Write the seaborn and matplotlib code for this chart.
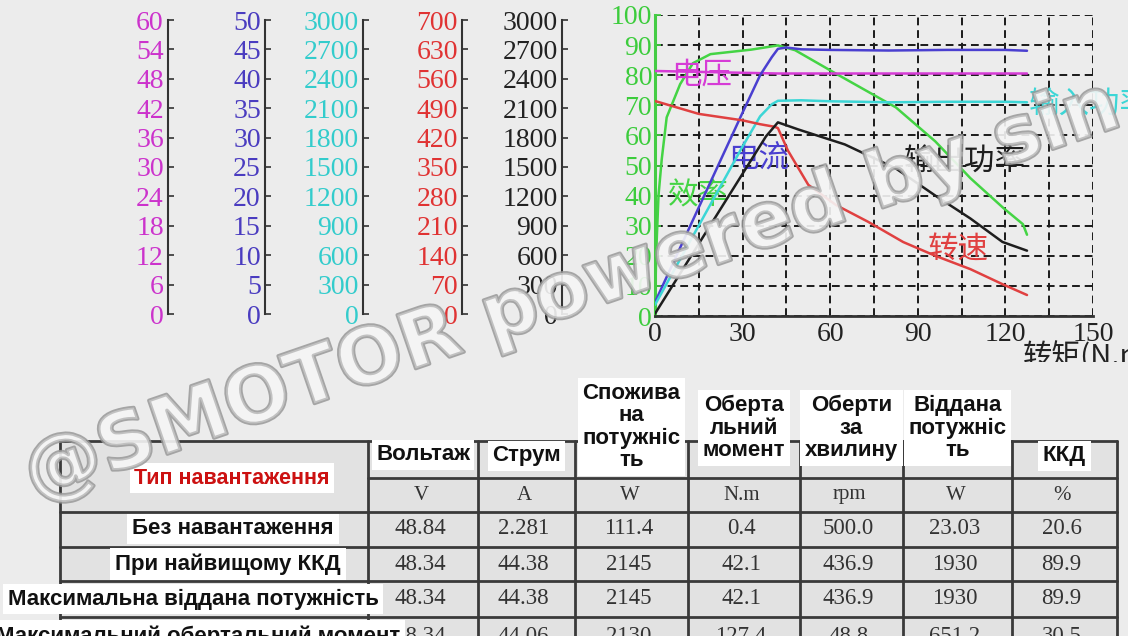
import numpy as np
import pandas as pd
import matplotlib
matplotlib.use("Agg")
import matplotlib.pyplot as plt
import matplotlib.patheffects as pe
from matplotlib.patches import Rectangle
import seaborn as sns

# ---- curve data (x = torque, N.m) ----
volt_torque = [0, 20, 42.1, 80, 127.4]
voltage = [48.84, 48.6, 48.34, 48.34, 48.34]

cur_torque = [0, 10, 20, 30, 36, 40, 42.1, 45, 50, 60, 80, 100, 120, 127.4]
current = [2.281, 12.8, 23.3, 33.8, 40.0, 43.0, 44.38, 44.6, 44.3, 44.2, 44.1, 44.2, 44.2, 44.06]

pin_torque = [0, 10, 20, 30, 36, 40, 42.1, 50, 60, 80, 100, 120, 127.4]
input_power = [111.4, 640, 1165, 1690, 1990, 2110, 2145, 2150, 2140, 2130, 2135, 2135, 2130]

spd_torque = [0, 15, 30, 36, 41, 42.1, 45.5, 52.5, 62, 73, 85, 96, 108, 119, 127.4]
speed = [500.0, 470, 455, 446, 440, 436.9, 385, 305, 258, 219, 172, 140, 109, 74, 48.8]

pout_torque = [0, 10, 20, 30, 38, 42.1, 49, 65, 82.5, 96, 108, 119, 127.4]
output_power = [23.03, 488, 953, 1418, 1790, 1930, 1860, 1710, 1470, 1200, 972, 738, 651.2]

eff_torque = [0, 0.4, 1.2, 2.3, 4, 8.6, 13, 19, 33, 42.1, 48, 62, 82.5, 96, 108, 119.4, 126, 127.4]
efficiency = [2, 20.6, 40, 52, 66, 77, 84, 87, 88.5, 89.9, 88.3, 80.5, 69.3, 58, 45.8, 35.8, 30.5, 27]

# ---- scales of the stacked axes on the left ----
scale_max = [60, 50, 3000, 700, 3000]
scale_step = [6, 5, 300, 70, 300]
scale_colors = ["#cc33cc", "#4a3cc0", "#33cccc", "#e03333", "#222222"]

# ---- curve labels ----
curve_labels = ["电压", "电流", "输入功率", "转速", "输出功率", "效率"]

# ---- table ----
headers = ["Вольтаж", "Струм", "Спожива\nна\nпотужніс\nть", "Оберта\nльний\nмомент",
           "Оберти\nза\nхвилину", "Віддана\nпотужніс\nть", "ККД"]
units = ["V", "A", "W", "N.m", "rpm", "W", "%"]
row_labels = ["Без навантаження", "При найвищому ККД",
              "Максимальна віддана потужність", "Максимальний обертальний момент"]
row_no_load = ["48.84", "2.281", "111.4", "0.4", "500.0", "23.03", "20.6"]
row_best_eff = ["48.34", "44.38", "2145", "42.1", "436.9", "1930", "89.9"]
row_max_pout = ["48.34", "44.38", "2145", "42.1", "436.9", "1930", "89.9"]
row_max_torque = ["48.34", "44.06", "2130", "127.4", "48.8", "651.2", "30.5"]
table_rows = [row_no_load, row_best_eff, row_max_pout, row_max_torque]

BG = "#ececec"
W, H = 1128, 636

sns.set_theme(style="white", rc={"figure.facecolor": BG, "axes.facecolor": BG})
plt.rcParams["font.family"] = ["Liberation Serif", "Noto Sans CJK SC", "DejaVu Sans"]
CJK = ["Noto Sans CJK SC", "DejaVu Sans"]
SANS = ["Liberation Sans", "DejaVu Sans"]


def px_rect(x0, y0, x1, y1):
    return [x0 / W, 1 - y1 / H, (x1 - x0) / W, (y1 - y0) / H]


fig = plt.figure(figsize=(W / 100, H / 100), dpi=100)

# stacked value scales
spine_x = [168, 265, 363, 462, 562]
for sx, vmax, step, col in zip(spine_x, scale_max, scale_step, scale_colors):
    sa = fig.add_axes(px_rect(sx, 20, sx + 1, 314))
    sa.patch.set_visible(False)
    sa.set_ylim(0, vmax)
    sa.set_yticks(np.arange(0, vmax + step, step))
    sa.set_xticks([])
    for s in ["top", "right", "bottom"]:
        sa.spines[s].set_visible(False)
    sa.spines["left"].set_color("#333333")
    sa.spines["left"].set_linewidth(1.5)
    sa.tick_params(axis="y", direction="in", length=4, width=1.2, color="#333333",
                   labelsize=20, labelcolor=col, pad=3, left=True)

# main chart
ax = fig.add_axes(px_rect(655, 15, 1093, 316))
ax.set_xlim(0, 150)
ax.set_ylim(0, 100)
xt = np.arange(0, 151, 15)
ax.set_xticks(xt)
ax.set_xticklabels([str(v) if v % 30 == 0 else "" for v in xt])
ax.set_yticks(np.arange(0, 101, 10))
ax.tick_params(axis="x", length=0, labelsize=20, labelcolor="#222222", pad=4)
ax.tick_params(axis="y", left=True, direction="in", length=4, color="#44cc44",
               labelsize=20, labelcolor="#3ccc3c", pad=2)
ax.grid(True, color="#1a1a1a", linestyle=(0, (4, 2.5)), linewidth=1.4)
ax.spines["top"].set_visible(False)
ax.spines["right"].set_visible(False)
ax.spines["left"].set_color("#44cc44")
ax.spines["left"].set_linewidth(2.2)
ax.spines["bottom"].set_color("#333333")
ax.spines["bottom"].set_linewidth(2)

series = [
    (volt_torque, voltage, 60, "#d63cd6"),
    (cur_torque, current, 50, "#4a3fd0"),
    (pin_torque, input_power, 3000, "#3cd6d6"),
    (spd_torque, speed, 700, "#e04040"),
    (pout_torque, output_power, 3000, "#1e1e1e"),
]
for tq, vals, vmax, col in series:
    tw = ax.twinx()
    tw.set_ylim(0, vmax)
    tw.set_axis_off()
    sns.lineplot(x=tq, y=vals, ax=tw, color=col, linewidth=1.8)

sns.lineplot(x=eff_torque, y=efficiency, ax=ax, color="#44d444", linewidth=1.8)

label_pos = [(5.5, 80), (25, 52), (128, 70), (93.5, 22), (85, 51), (4.5, 40)]
label_colors = ["#d63cd6", "#4a3fd0", "#3cd6d6", "#e04040", "#1e1e1e", "#44d444"]
for txt, (lx, ly), col in zip(curve_labels, label_pos, label_colors):
    ax.text(lx, ly, txt, color=col, fontsize=22, family=CJK, ha="left", va="center")
ax.text(126, -13.5, "转矩(N.m)", color="#222222", fontsize=21, family=CJK,
        ha="left", va="center", clip_on=False)

# table region
tab = fig.add_axes(px_rect(0, 362, W, H))
tab.set_xlim(0, W)
tab.set_ylim(H, 362)
tab.set_xticks([])
tab.set_yticks([])
for s in tab.spines.values():
    s.set_visible(False)

col_edges = [60, 368, 478, 575, 688, 800, 903, 1012, 1117]
row_edges = [441, 478, 512, 547, 581, 617, 652]
line_kw = dict(color="#3a3a3a", linewidth=2, zorder=2)
tab.add_patch(Rectangle((col_edges[0], row_edges[0]), col_edges[-1] - col_edges[0],
                        row_edges[-1] - row_edges[0], fc="#e2e2e2", ec="none", zorder=1))
for i, ry in enumerate(row_edges):
    x_start = col_edges[1] if i == 1 else col_edges[0]
    tab.plot([x_start, col_edges[-1]], [ry, ry], **line_kw)
for cx in col_edges:
    tab.plot([cx, cx], [row_edges[0], row_edges[-1]], **line_kw)

col_centers = [(a + b) / 2 for a, b in zip(col_edges[1:-1], col_edges[2:])]
head_y = [455, 456, 427, 428, 428, 428, 456]
box = dict(boxstyle="square,pad=0.2", fc="white", ec="none")
for cx, hy, h in zip(col_centers, head_y, headers):
    tab.text(cx, hy, h, ha="center", va="center", fontsize=16, fontweight="bold",
             family=SANS, linespacing=1.1, bbox=box, zorder=4, color="#111111")
for cx, u in zip(col_centers, units):
    tab.text(cx - 2, 495, u, ha="center", va="center", fontsize=15, color="#333333", zorder=3)
tab.text(232, 478, "Тип навантаження", ha="center", va="center", fontsize=15.5,
         fontweight="bold", family=SANS, color="#cc1111", bbox=box, zorder=4)

row_y = [529, 564, 599, 636]
label_x = [233, 228, 193, 198]
for ry, lx, lab, vals in zip(row_y, label_x, row_labels, table_rows):
    for cx, v in zip(col_centers, vals):
        tab.text(cx - 3, ry, v, ha="center", va="center", fontsize=16.5, color="#333333", zorder=3)
    tab.text(lx, ry, lab, ha="center", va="center", fontsize=16, fontweight="bold",
             family=SANS, color="#111111", zorder=5,
             bbox=dict(boxstyle="square,pad=0.22", fc="white", ec="none"))

# watermark
fig.text(572 / W, 1 - 292 / H, "@SMOTOR powered by sin", rotation=19,
         rotation_mode="anchor", ha="center", va="center", fontsize=56,
         family=["DejaVu Sans"], fontweight="bold", color="#f6f6f6", alpha=0.35,
         path_effects=[pe.Stroke(linewidth=2.6, foreground="#999999", alpha=0.85), pe.Normal()])

fig.savefig("out.png", dpi=100, facecolor=BG)
